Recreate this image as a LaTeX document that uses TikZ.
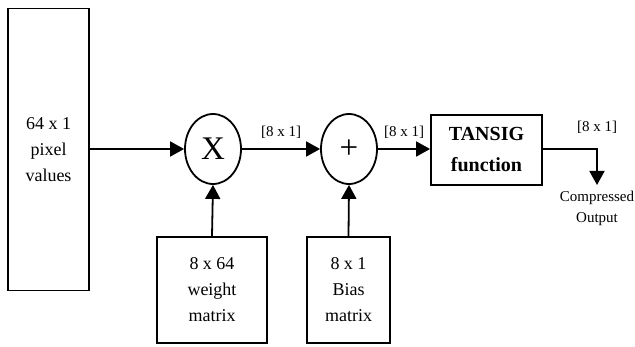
\documentclass[tikz,border=0pt]{standalone}
\usepackage{fontspec}
\setmainfont{Liberation Serif}
\usetikzlibrary{arrows.meta,shapes.geometric}
\begin{document}
\begin{tikzpicture}[x=1pt,y=-1pt,
  blk/.style={draw,line width=1.8pt,inner sep=0pt,align=center,font=\fontsize{18}{26}\selectfont},
  op/.style={draw,ellipse,line width=1.8pt,minimum width=56pt,minimum height=70pt,inner sep=0pt,font=\fontsize{33}{33}\selectfont},
  conn/.style={line width=1.8pt,-{Triangle[length=14pt,width=15pt]}},
  lbl/.style={font=\fontsize{15}{15}\selectfont,inner sep=0pt}]
\useasboundingbox (0,0) rectangle (635,347);
\node[blk,minimum width=81pt,minimum height=282pt] (in) at (48.5,149.5) {64 x 1\\pixel\\values};
\node[op] (mul) at (213,149) {X};
\node[op] (add) at (349,149) {+};
\node[blk,minimum width=111pt,minimum height=70pt,font=\bfseries\fontsize{20}{31}\selectfont] (tan) at (486.5,150) {TANSIG\\function};
\node[blk,minimum width=110pt,minimum height=106pt] (w) at (212,290) {8 x 64\\weight\\matrix};
\node[blk,minimum width=83pt,minimum height=106pt] (b) at (348.5,290) {8 x 1\\Bias\\matrix};
\coordinate (corner) at (597,149);
\coordinate (outend) at (597,185);
\draw[conn] (in.east |- mul.west) -- (mul.west);
\draw[conn] (mul.east) -- node[lbl,above=10pt] {[8 x 1]} (add.west);
\draw[conn] (add.east) -- node[lbl,above=10pt] {[8 x 1]} (tan.west |- add.east);
\draw[conn] (tan.east |- corner) -- (corner) -- (outend);
\node[lbl] (l3) at (597,127) {[8 x 1]};
\draw[conn] (w.north) -- (mul.south);
\draw[conn] (b.north) -- (add.south);
\node[lbl,align=center,font=\fontsize{15}{21}\selectfont] (out) at (597,208) {Compressed\\Output};
\end{tikzpicture}
\end{document}
